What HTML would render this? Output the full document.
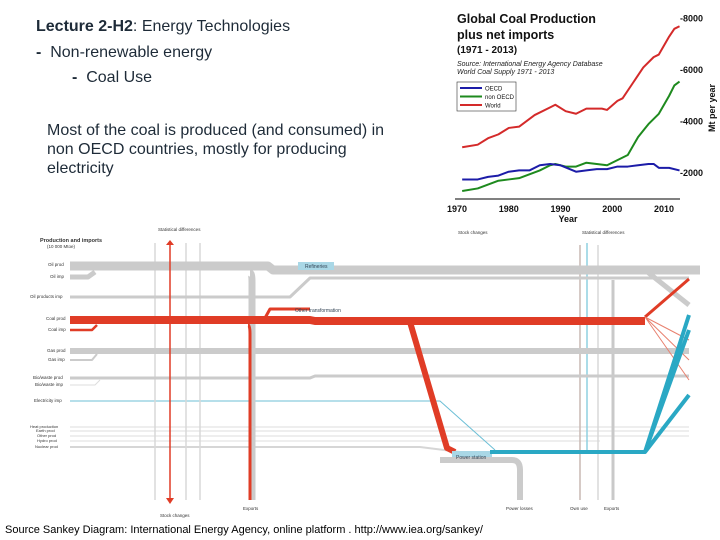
<!DOCTYPE html>
<html><head><meta charset="utf-8">
<style>
html,body{margin:0;padding:0;background:#fff;}
#slide{position:relative;width:720px;height:540px;overflow:hidden;font-family:"Liberation Sans",sans-serif;color:#1e2b38;}
.t{position:absolute;white-space:nowrap;}
</style></head>
<body>
<div id="slide">
  <div class="t" style="left:36px;top:18px;font-size:16px;"><b>Lecture 2-H2</b>: Energy Technologies</div>
  <div class="t" style="left:36px;top:44px;font-size:16px;"><b>-</b>&nbsp; Non-renewable energy</div>
  <div class="t" style="left:72px;top:69px;font-size:16px;"><b>-</b>&nbsp; Coal Use</div>
  <div class="t" style="left:47px;top:121px;font-size:16px;line-height:19px;white-space:normal;width:342px;">Most of the coal is produced (and consumed) in non OECD countries, mostly for producing electricity</div>
  <div class="t" style="left:5px;top:524px;font-size:11px;color:#000;">Source Sankey Diagram: International Energy Agency, online platform . http://www.iea.org/sankey/</div>

  <svg id="chart" width="720" height="540" style="position:absolute;left:0;top:0;" font-family="Liberation Sans, sans-serif"></svg>
</div>
<script>
const years = [1971,1974,1976,1978,1980,1982,1983,1985,1988,1989,1991,1993,1995,1998,1999,2001,2002,2004,2006,2008,2009,2011,2012,2013];
const worldVals = [3000,3100,3350,3500,3750,3800,3950,4250,4550,4650,4400,4300,4500,4500,4450,4800,4900,5500,6100,6500,6600,7300,7600,7700];
const oecdYears = [1971,1974,1976,1978,1980,1982,1984,1986,1988,1990,1993,1995,1997,1999,2001,2003,2005,2007,2008,2009,2011,2013];
const oecdVals = [1750,1750,1850,1900,2050,2100,2100,2300,2350,2300,2050,2100,2150,2150,2250,2250,2300,2350,2350,2200,2200,2100];
const nonYears = [1971,1974,1976,1978,1980,1982,1984,1986,1988,1989,1991,1993,1995,1997,1999,2001,2003,2005,2007,2009,2011,2012,2013];
const nonVals = [1300,1400,1550,1700,1750,1800,1950,2100,2300,2350,2250,2250,2400,2350,2300,2500,2700,3400,3900,4300,5000,5400,5550];
const xTicks = [1970,1980,1990,2000,2010];
const yTicks = [2000,4000,6000,8000];

const NS='http://www.w3.org/2000/svg';
const svg=document.getElementById('chart');
function mk(tag,attrs,parent){const e=document.createElementNS(NS,tag);for(const k in attrs)e.setAttribute(k,attrs[k]);(parent||svg).appendChild(e);return e;}
const xS=y=>457+(y-1970)*5.175;
const yS=v=>173-(v-2000)*0.02575;

const g=mk('g',{});


let t=mk('text',{x:457,y:23,'font-size':12.5,'font-weight':'bold',fill:'#111'},g);t.textContent='Global Coal Production';


t=mk('text',{x:457,y:39,'font-size':12.5,'font-weight':'bold',fill:'#111'},g);t.textContent='plus net imports';


t=mk('text',{x:457,y:53,'font-size':10,'font-weight':'bold',fill:'#111'},g);t.textContent='(1971 - 2013)';


t=mk('text',{x:457,y:66,'font-size':7,'font-style':'italic',fill:'#222'},g);t.textContent='Source: International Energy Agency Database';


t=mk('text',{x:457,y:74,'font-size':7,'font-style':'italic',fill:'#222'},g);t.textContent='World Coal Supply 1971 - 2013';


const ax=mk('line',{x1:455,y1:199,x2:680,y2:199,stroke:'#000','stroke-width':1},g);


xTicks.forEach(v=>{const tx=mk('text',{x:xS(v),y:212,'font-size':9,'font-weight':'bold','text-anchor':'middle',fill:'#111'},g);tx.textContent=v;

});
t=mk('text',{x:568,y:222,'font-size':9,'font-weight':'bold','text-anchor':'middle',fill:'#111'},g);t.textContent='Year';


yTicks.forEach(v=>{const tx=mk('text',{x:680,y:yS(v)+3,'font-size':9,'font-weight':'bold',fill:'#111'},g);tx.textContent='-'+v;

});
t=mk('text',{x:0,y:0,'font-size':9,'font-weight':'bold',fill:'#111','text-anchor':'middle',transform:'translate(715,108) rotate(-90)'},g);t.textContent='Mt per year';


function line(xs,vs,color,name){const p=mk('polyline',{points:xs.map((y,i)=>xS(y)+','+yS(vs[i])).join(' '),fill:'none',stroke:color,'stroke-width':2,'stroke-linejoin':'round'},g);

}
line(years,worldVals,'#d42a2a','world-line');
line(nonYears,nonVals,'#1e8a1e','non-oecd-line');
line(oecdYears,oecdVals,'#1c1ca8','oecd-line');
const lg=mk('g',{},g);


mk('rect',{x:457,y:82,width:59,height:29,fill:'#fff',stroke:'#333','stroke-width':0.6},lg);
[['OECD','#1c1ca8'],['non OECD','#1e8a1e'],['World','#d42a2a']].forEach((e,i)=>{
 const yy=88+i*8.5;
 mk('line',{x1:460,y1:yy,x2:482,y2:yy,stroke:e[1],'stroke-width':2},lg);
 const lt=mk('text',{x:485,y:yy+2.5,'font-size':6,fill:'#111'},lg);lt.textContent=e[0];
 
 
});

const s=mk('g',{});


const G='#cbcbcb',R='#e03c26',B='#2aa8c4',LB='#a9d7e6';
function path(d,c,w,name){const p=mk('path',{d:d,fill:'none',stroke:c,'stroke-width':w,'stroke-linejoin':'round'},s);
}
path('M70 427 H689 M70 431 H689 M70 436 H689 M70 441 H600','#ddd',1,'minor-flows');
path('M70 447 H420 L460 452','#d6d6d6',2,'nuclear-flow');
path('M70 385 H95 L100 380','#ddd',1,'bio-imp');
path('M70 401 H440 L495 450','#6cbfd6',1,'electricity-imp-flow');
path('M155 243 V500','#d8d8d8',1.5,'stat-diff-line');
path('M186 243 V500','#d8d8d8',1.5,'stat-diff-line-2');
path('M200 243 V500','#d8d8d8',1.5,'stat-diff-line-3');
path('M580 245 V500','#c9b9b4',1.5,'own-use-line');
path('M587 243 V450','#8fd0e0',1.5,'stat-diff-blue');
path('M598 245 V500','#d8d8d8',1.5,'stat-diff-4');
path('M613 280 V500','#c9c9c9',3,'exports-line');
path('M70 267 H90 M70 277 H88 L95 272','#cbcbcb',5,'oil-imp');
path('M70 266 H268 L273 270 H700','#cbcbcb',9,'oil-band');
path('M250 273 Q252 273 252 282 V500','#cbcbcb',7,'exports-gray');
path('M645 270 L689 305','#cbcbcb',5,'oil-right');
path('M70 297 H290 L310 278 H689','#cbcbcb',3,'oil-products');
mk('rect',{x:298,y:262,width:36,height:8,fill:LB},s);
t=mk('text',{x:305,y:268,'font-size':5,fill:'#345'},s);t.textContent='Refineries';


path('M70 351 H689','#cbcbcb',6,'gas-band');
path('M70 360 H92 L97 354','#cbcbcb',2,'gas-imp');
path('M70 378 H310 L315 376 H689','#cbcbcb',3,'bio-band');
path('M70 320 H310 L315 321 H645','#e03c26',8,'coal-band');
path('M645 317 L689 279','#e03c26',3,'coal-right');
path('M645 317 L689 360 M645 317 L689 380 M645 317 L689 340','#e8806e',1,'coal-right-minor');
path('M70 330 H92 L97 325','#e03c26',2.5,'coal-imp');
path('M265 318 L270 309 H310','#e03c26',3,'other-transformation');
t=mk('text',{x:295,y:312,'font-size':5,fill:'#345'},s);t.textContent='Other transformation';


path('M170 243 V500','#e03c26',1.5,'stock-change-red');
mk('polygon',{points:'166,245 170,240 174,245',fill:R},s);
mk('polygon',{points:'166,498 170,504 174,498',fill:R},s);
path('M248 325 Q250 325 250 334 V500','#e03c26',3,'coal-exports');
path('M410 322 L447 448 L455 452','#e03c26',6,'coal-to-power');
mk('rect',{x:452,y:451,width:40,height:10,fill:LB},s);
path('M440 460 H512 Q520 460 520 470 V500','#cbcbcb',6,'power-losses');
path('M490 452 H645 L689 395 M645 452 L689 315 M645 452 L689 330','#2aa8c4',4,'electricity-out');
t=mk('text',{x:456,y:459,'font-size':5,fill:'#345'},s);t.textContent='Power station';


const labels=[['Production and imports',40,242,5.5,'bold'],['(10 000 Mtoe)',47,248,4.5,''],['Oil prod',48,266,4.5,''],['Oil imp',50,278,4.5,''],['Oil products imp',30,298,4.5,''],['Coal prod',46,320,4.5,''],['Coal imp',48,331,4.5,''],['Gas prod',47,352,4.5,''],['Gas imp',48,361,4.5,''],['Bio/waste prod',33,379,4.5,''],['Bio/waste imp',35,386,4.5,''],['Electricity imp',34,402,4.5,''],['Heat production',30,428,4,''],['Earth prod',36,432,4,''],['Other prod',37,437,4,''],['Hydro prod',37,442,4,''],['Nuclear prod',35,448,4,''],['Statistical differences',158,231,4.5,''],['Stock changes',458,234,4.5,''],['Statistical differences',582,234,4.5,''],['Exports',243,510,4.5,''],['Stock changes',160,517,4.5,''],['Power losses',506,510,4.5,''],['Own use',570,510,4.5,''],['Exports',604,510,4.5,'']];
labels.forEach(l=>{const lt=mk('text',{x:l[1],y:l[2],'font-size':l[3],'font-weight':l[4]||'normal',fill:'#333'},s);lt.textContent=l[0];

});
</script>
</body></html>
